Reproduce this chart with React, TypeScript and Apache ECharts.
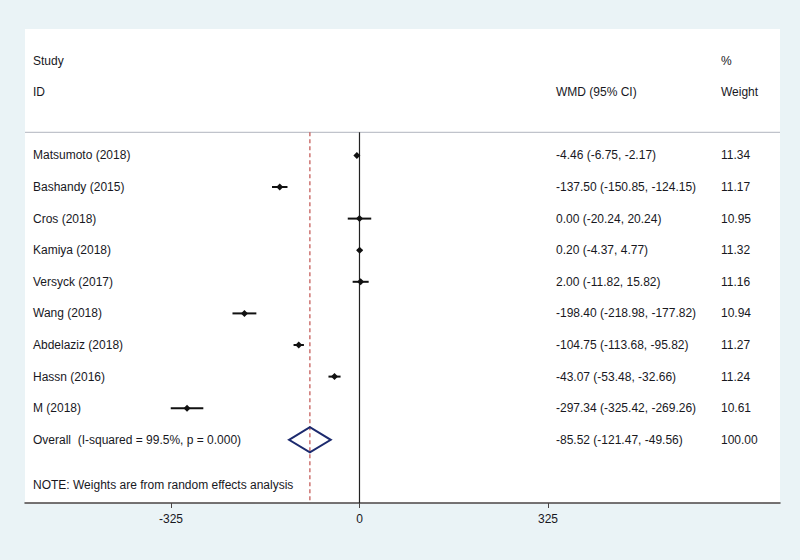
import React, { useEffect, useRef } from "react";
import * as echarts from "echarts";

const studies = [
  "Matsumoto (2018)",
  "Bashandy (2015)",
  "Cros (2018)",
  "Kamiya (2018)",
  "Versyck (2017)",
  "Wang (2018)",
  "Abdelaziz (2018)",
  "Hassn (2016)",
  "M (2018)",
];
const wmd = [-4.46, -137.5, 0.0, 0.2, 2.0, -198.4, -104.75, -43.07, -297.34];
const lower = [-6.75, -150.85, -20.24, -4.37, -11.82, -218.98, -113.68, -53.48, -325.42];
const upper = [-2.17, -124.15, 20.24, 4.77, 15.82, -177.82, -95.82, -32.66, -269.26];
const weights = ["11.34", "11.17", "10.95", "11.32", "11.16", "10.94", "11.27", "11.24", "10.61"];
const ciText = [
  "-4.46 (-6.75, -2.17)",
  "-137.50 (-150.85, -124.15)",
  "0.00 (-20.24, 20.24)",
  "0.20 (-4.37, 4.77)",
  "2.00 (-11.82, 15.82)",
  "-198.40 (-218.98, -177.82)",
  "-104.75 (-113.68, -95.82)",
  "-43.07 (-53.48, -32.66)",
  "-297.34 (-325.42, -269.26)",
];
const overallLabel = "Overall  (I-squared = 99.5%, p = 0.000)";
const overall = { est: -85.52, lo: -121.47, hi: -49.56, text: "-85.52 (-121.47, -49.56)", weight: "100.00" };
const tickValues = [-325, 0, 325];
const noteText = "NOTE: Weights are from random effects analysis";

const FONT = "'Liberation Sans', Arial, sans-serif";
const TXT = "#18181e";

export default function App() {
  const ref = useRef<HTMLDivElement>(null);
  useEffect(() => {
    if (!ref.current) return;
    const chart = echarts.init(ref.current, undefined, { renderer: "svg" });
    const nRows = studies.length;
    const colLabel = 8;
    const colCI = 531;
    const colW = 696;
    const txt = (x: number, y: number, s: string) => ({
      type: "text",
      x,
      y,
      style: { text: s, fill: TXT, font: `12px ${FONT}`, textVerticalAlign: "middle", verticalAlign: "middle" },
    });
    chart.setOption({
      animation: false,
      backgroundColor: "#eaf3f6",
      grid: { left: 25, right: 20, top: 29, bottom: 57, show: true, backgroundColor: "#ffffff", borderWidth: 0 },
      xAxis: {
        type: "value",
        min: -576.7,
        max: 725,
        axisLine: { show: true, onZero: false, lineStyle: { color: "#4a4444", width: 1.5 } },
        axisTick: { show: true, customValues: tickValues, length: 5, lineStyle: { color: "#4a4444" } },
        axisLabel: { customValues: tickValues, color: TXT, fontSize: 12, fontFamily: FONT, margin: 10 },
        splitLine: { show: false },
      },
      yAxis: { type: "value", min: -4, max: 11, inverse: true, show: false },
      series: [
        {
          type: "custom",
          silent: true,
          data: [[0]],
          renderItem: (params: any, api: any) => {
            const cs = params.coordSys;
            const top = api.coord([0, -0.73])[1];
            const bottom = cs.y + cs.height;
            const x0 = api.coord([0, 0])[0];
            const xo = api.coord([overall.est, 0])[0];
            const yS = api.coord([0, -3])[1];
            const yI = api.coord([0, -2])[1];
            const yN = api.coord([0, 10.43])[1];
            return {
              type: "group",
              children: [
                { type: "line", shape: { x1: cs.x, y1: top, x2: cs.x + cs.width, y2: top }, style: { stroke: "#c0c3cb", lineWidth: 1.2 } },
                { type: "line", shape: { x1: x0, y1: top, x2: x0, y2: bottom }, style: { stroke: "#222222", lineWidth: 1.2 } },
                { type: "line", shape: { x1: xo, y1: top, x2: xo, y2: bottom }, style: { stroke: "#c0504d", lineWidth: 1.2, lineDash: [4, 3] } },
                txt(cs.x + colLabel, yS, "Study"),
                txt(cs.x + colLabel, yI, "ID"),
                txt(cs.x + colCI, yI, "WMD (95% CI)"),
                txt(cs.x + colW, yS, "%"),
                txt(cs.x + colW, yI, "Weight"),
                txt(cs.x + colLabel, yN, noteText),
              ],
            };
          },
        },
        {
          type: "custom",
          silent: true,
          data: studies.map((_, i) => [i, wmd[i], lower[i], upper[i]]),
          renderItem: (params: any, api: any) => {
            const cs = params.coordSys;
            const i = api.value(0);
            const p = api.coord([api.value(1), i]);
            const pl = api.coord([api.value(2), i]);
            const ph = api.coord([api.value(3), i]);
            const y = p[1];
            const r = 3.5;
            return {
              type: "group",
              children: [
                { type: "line", shape: { x1: pl[0], y1: y, x2: ph[0], y2: y }, style: { stroke: "#111111", lineWidth: 2 } },
                {
                  type: "polygon",
                  shape: { points: [[p[0] - r, y], [p[0], y - r], [p[0] + r, y], [p[0], y + r]] },
                  style: { fill: "#111111" },
                },
                txt(cs.x + colLabel, y, studies[i]),
                txt(cs.x + colCI, y, ciText[i]),
                txt(cs.x + colW, y, weights[i]),
              ],
            };
          },
        },
        {
          type: "custom",
          silent: true,
          data: [[nRows, overall.est, overall.lo, overall.hi]],
          renderItem: (params: any, api: any) => {
            const cs = params.coordSys;
            const row = api.value(0);
            const c = api.coord([api.value(1), row]);
            const l = api.coord([api.value(2), row]);
            const h = api.coord([api.value(3), row]);
            const t = api.coord([api.value(1), row - 0.4])[1];
            const b = api.coord([api.value(1), row + 0.4])[1];
            return {
              type: "group",
              children: [
                {
                  type: "polygon",
                  shape: { points: [[l[0], c[1]], [c[0], t], [h[0], c[1]], [c[0], b]] },
                  style: { fill: "none", stroke: "#1c2a6e", lineWidth: 2 },
                },
                txt(cs.x + colLabel, c[1], overallLabel),
                txt(cs.x + colCI, c[1], overall.text),
                txt(cs.x + colW, c[1], overall.weight),
              ],
            };
          },
        },
      ],
    });
    return () => chart.dispose();
  }, []);
  return <div ref={ref} style={{ position: "fixed", left: 0, top: 0, width: 800, height: 560 }} />;
}
